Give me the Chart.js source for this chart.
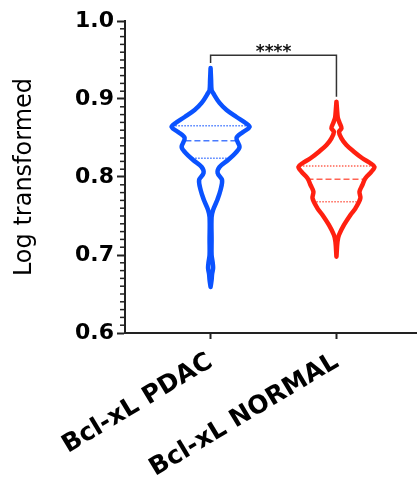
<!DOCTYPE html>
<html>
<head>
<meta charset="utf-8">
<script src="https://cdn.jsdelivr.net/npm/chart.js@4"></script>
<style>
  html, body { margin: 0; padding: 0; background: #fff; overflow: hidden; }
</style>
</head>
<body>
<canvas id="violin-chart" width="417" height="487"></canvas>
<script>
// Groups on the x axis
let categories = ['Bcl-xL PDAC', 'Bcl-xL NORMAL']

// Violin outline of each group: value on the y axis and half width (density) at that value
let pdacValues = [0.9397, 0.9244, 0.9115, 0.9077, 0.8949, 0.8859, 0.8769, 0.8692, 0.8641, 0.8577, 0.8500, 0.8385, 0.8308, 0.8218, 0.8128, 0.8051, 0.7962, 0.7833, 0.7705, 0.7577, 0.7487, 0.7192, 0.7000, 0.6910, 0.6833, 0.6756, 0.6679, 0.6590]
let pdacWidths = [0, 0.004, 0.008, 0.02, 0.071, 0.127, 0.206, 0.278, 0.31, 0.258, 0.206, 0.23, 0.198, 0.139, 0.071, 0.056, 0.091, 0.079, 0.053, 0.02, 0.008, 0.008, 0.008, 0.016, 0.02, 0.012, 0.008, 0]

let normalValues = [0.8965, 0.8795, 0.8753, 0.8688, 0.8624, 0.8581, 0.8496, 0.8410, 0.8324, 0.8240, 0.8176, 0.8132, 0.8068, 0.7983, 0.7897, 0.7812, 0.7727, 0.7599, 0.7513, 0.7385, 0.7256, 0.7171, 0.6978]
let normalWidths = [0, 0.008, 0.012, 0.026, 0.04, 0.02, 0.04, 0.079, 0.139, 0.206, 0.27, 0.302, 0.278, 0.23, 0.206, 0.183, 0.19, 0.151, 0.111, 0.06, 0.02, 0.008, 0]

// Quartiles (upper, median, lower) and how wide the violin is there
let pdacQuartiles = [0.8658, 0.8465, 0.8240]
let pdacQuartileWidths = [0.28, 0.2, 0.17]
let normalQuartiles = [0.8141, 0.7971, 0.7683]
let normalQuartileWidths = [0.29, 0.23, 0.16]

// Significance bracket: left foot, top, right foot
let sigBracket = [0.946, 0.956, 0.903]
let sigLabel = '****'

// Y axis ticks
let yTicks = [0.6, 0.7, 0.8, 0.9, 1.0]

let blue = '#0a52ff'
let red = '#ff2010'

// Build the closed outline: down the right side, back up the left side
function violinPoints(center, values, widths) {
    let right = values.map((v, i) => ({ x: center + widths[i], y: v }))
    let left = values.map((v, i) => ({ x: center - widths[i], y: v })).reverse()
    return right.concat(left)
}

function quartileLine(center, value, width) {
    return [{ x: center - width, y: value }, { x: center + width, y: value }]
}

let datasets = [
    {
        data: violinPoints(0, pdacValues, pdacWidths),
        borderColor: blue,
        borderWidth: 4.5,
        borderJoinStyle: 'round',
        borderCapStyle: 'round',
        tension: 0.35
    },
    {
        data: violinPoints(1, normalValues, normalWidths),
        borderColor: red,
        borderWidth: 4.5,
        borderJoinStyle: 'round',
        borderCapStyle: 'round',
        tension: 0.35
    }
]

// Quartile lines, the median is dashed, the others dotted
let groups = [
    { center: 0, q: pdacQuartiles, w: pdacQuartileWidths, color: 'rgba(40, 100, 255, 0.85)' },
    { center: 1, q: normalQuartiles, w: normalQuartileWidths, color: 'rgba(255, 60, 40, 0.8)' }
]
groups.forEach(function(g) {
    g.q.forEach(function(value, i) {
        datasets.push({
            data: quartileLine(g.center, value, g.w[i]),
            borderColor: g.color,
            borderWidth: 1.5,
            borderDash: i === 1 ? [6, 3] : [1.5, 1.5],
            tension: 0
        })
    })
})

// The bracket over both groups
datasets.push({
    data: [
        { x: 0, y: sigBracket[0] },
        { x: 0, y: sigBracket[1] },
        { x: 1, y: sigBracket[1] },
        { x: 1, y: sigBracket[2] }
    ],
    borderColor: '#333',
    borderWidth: 1.5,
    tension: 0
})

// Short ticks between the labelled ones plus the stars over the bracket
let extras = {
    id: 'extras',
    afterDraw(chart) {
        let ctx = chart.ctx
        let yScale = chart.scales.y
        let xScale = chart.scales.x
        let left = chart.chartArea.left
        ctx.save()
        ctx.strokeStyle = '#222'
        ctx.lineWidth = 1.5
        for (let i = 61; i < 100; i++) {
            if (i % 10 === 0) continue
            let py = yScale.getPixelForValue(i / 100)
            ctx.beginPath()
            ctx.moveTo(left - 5, py)
            ctx.lineTo(left, py)
            ctx.stroke()
        }
        ctx.fillStyle = '#111'
        ctx.font = 'bold 17px "DejaVu Sans"'
        ctx.textAlign = 'center'
        ctx.textBaseline = 'alphabetic'
        ctx.fillText(sigLabel, xScale.getPixelForValue(0.5), yScale.getPixelForValue(sigBracket[1]) + 2)
        ctx.restore()
    }
}

let ctx = document.querySelector('#violin-chart').getContext('2d')

new Chart(ctx, {
    type: 'scatter',
    data: { datasets: datasets },
    options: {
        responsive: false,
        animation: false,
        showLine: true,
        layout: { padding: { top: 21, left: 0, right: 0, bottom: 0 } },
        elements: { point: { radius: 0, hoverRadius: 0 } },
        plugins: { legend: { display: false }, tooltip: { enabled: false } },
        scales: {
            x: {
                type: 'linear',
                min: -0.68,
                max: 1.64,
                afterBuildTicks: function(scale) {
                    scale.ticks = categories.map((c, i) => ({ value: i }))
                },
                afterFit: function(scale) {
                    scale.height = 154
                    scale.paddingLeft = 0
                    scale.paddingRight = 0
                },
                grid: { drawOnChartArea: false, tickLength: 6, tickWidth: 2, tickColor: '#222' },
                border: { color: '#222', width: 2 },
                ticks: {
                    autoSkip: false,
                    minRotation: 31,
                    maxRotation: 31,
                    padding: 8,
                    color: '#000',
                    font: { family: 'DejaVu Sans', weight: 'bold', size: 25 },
                    callback: function(value) { return categories[value] }
                }
            },
            y: {
                min: 0.6,
                max: 1.0,
                afterBuildTicks: function(scale) {
                    scale.ticks = yTicks.map(v => ({ value: v }))
                },
                afterFit: function(scale) {
                    scale.width = 125
                },
                grid: { drawOnChartArea: false, tickLength: 8, tickWidth: 2, tickColor: '#222' },
                border: { color: '#222', width: 2 },
                ticks: {
                    padding: 3,
                    color: '#000',
                    font: { family: 'DejaVu Sans', weight: 'bold', size: 22 },
                    callback: function(value) { return value.toFixed(1) }
                },
                title: {
                    display: true,
                    text: 'Log transformed',
                    color: '#000',
                    padding: { top: 10, bottom: 0 },
                    font: { family: 'DejaVu Sans', size: 24 }
                }
            }
        }
    },
    plugins: [extras]
})
</script>
</body>
</html>
